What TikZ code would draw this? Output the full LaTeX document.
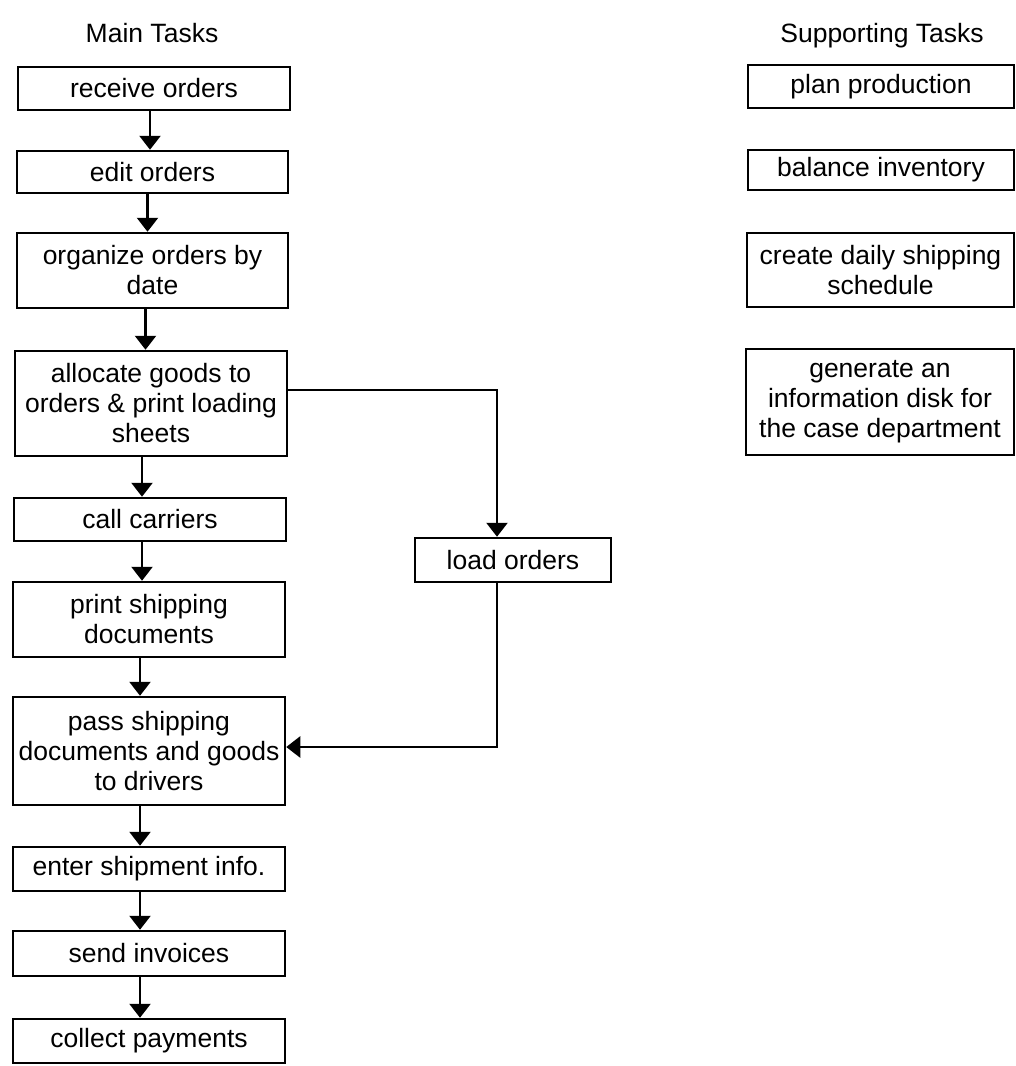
\documentclass[tikz,border=0pt]{standalone}
\usepackage{fontspec}
\setmainfont{Liberation Sans}
\usetikzlibrary{arrows.meta,calc}

\tikzset{
  task/.style={draw, line width=2.5pt, align=center, inner sep=0pt,
    font=\fontsize{26.5}{30}\selectfont},
  head/.style={anchor=base, font=\fontsize{26.5}{30}\selectfont},
  flow/.style={line width=2.5pt, -{Triangle[width=21pt,length=14pt]}},
}

\begin{document}
\begin{tikzpicture}[x=1pt,y=-1pt]
  \useasboundingbox (0,0) rectangle (1016,1066);

  % column headings
  \node[head] (hmain) at (152,42) {Main Tasks};
  \node[head] (hsup)  at (882,42) {Supporting Tasks};

  % main task chain
  \node[task, minimum width=272pt, minimum height=43pt]  (recv)  at (154,88.5)  {receive orders};
  \node[task, minimum width=271pt, minimum height=42pt]  (edit)  at (152.5,172) {edit orders};
  \node[task, minimum width=271pt, minimum height=75pt]  (org)   at (152.5,270.5) {organize orders by\\date};
  \node[task, minimum width=272pt, minimum height=105pt] (alloc) at (151,403.5) {allocate goods to\\orders \& print loading\\sheets};
  \node[task, minimum width=272pt, minimum height=43pt]  (call)  at (150,519.5) {call carriers};
  \node[task, minimum width=272pt, minimum height=75pt]  (print) at (149,619.5) {print shipping\\documents};
  \node[task, minimum width=272pt, minimum height=108pt] (pass)  at (149,751)   {pass shipping\\documents and goods\\to drivers};
  \node[task, minimum width=272pt, minimum height=44pt]  (enter) at (149,869)   {enter shipment info.};
  \node[task, minimum width=272pt, minimum height=45pt]  (send)  at (149,953.5) {send invoices};
  \node[task, minimum width=272pt, minimum height=44pt]  (coll)  at (149,1041)  {collect payments};

  % side branch
  \node[task, minimum width=196pt, minimum height=44pt]  (load)  at (513,560)   {load orders};

  % supporting tasks
  \node[task, minimum width=266pt, minimum height=43pt]  (plan)  at (881,86.5)  {plan production};
  \node[task, minimum width=266pt, minimum height=40pt]  (bal)   at (881,170)   {balance inventory};
  \node[task, minimum width=267pt, minimum height=74pt]  (sched) at (880.5,270) {create daily shipping\\schedule};
  \node[task, minimum width=268pt, minimum height=106pt] (disk)  at (880,402)   {generate an\\information disk for\\the case department};

  % connectors along the main chain
  \draw[flow] ([xshift=-4pt]recv.south)  -- ([xshift=-4pt]recv.south |- edit.north);
  \draw[flow] ([xshift=-5pt]edit.south)  -- ([xshift=-5pt]edit.south |- org.north);
  \draw[flow] ([xshift=-7pt]org.south)   -- ([xshift=-7pt]org.south |- alloc.north);
  \draw[flow] ([xshift=-9pt]alloc.south) -- ([xshift=-9pt]alloc.south |- call.north);
  \draw[flow] ([xshift=-8pt]call.south)  -- ([xshift=-8pt]call.south |- print.north);
  \draw[flow] ([xshift=-9pt]print.south) -- ([xshift=-9pt]print.south |- pass.north);
  \draw[flow] ([xshift=-9pt]pass.south)  -- ([xshift=-9pt]pass.south |- enter.north);
  \draw[flow] ([xshift=-9pt]enter.south) -- ([xshift=-9pt]enter.south |- send.north);
  \draw[flow] ([xshift=-9pt]send.south)  -- ([xshift=-9pt]send.south |- coll.north);

  % branch to loading and back
  \draw[flow] ($(alloc.east)+(0,-13.5)$) -| ([xshift=-16pt]load.north);
  \draw[flow] ([xshift=-16pt]load.south) |- ($(pass.east)+(0,-4)$);
\end{tikzpicture}
\end{document}
